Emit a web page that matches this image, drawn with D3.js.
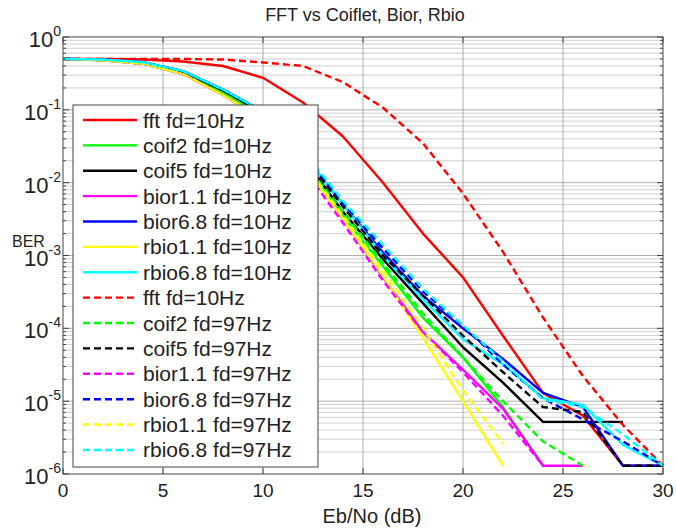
<!DOCTYPE html>
<html>
<head>
<meta charset="utf-8">
<script src="https://cdn.jsdelivr.net/npm/d3@7"></script>
<style>
  body { margin: 0; background: #fff; }
  svg { font-family: "Liberation Sans", Arial, sans-serif; }
</style>
</head>
<body>
<svg width="676" height="531"></svg>
<script>
// Eb/No points (dB)
const ebno = [0, 2, 4, 6, 8, 10, 12, 14, 16, 18, 20, 22, 24, 26, 28, 30];

// BER per curve (curves stop where BER hits zero)
const fft10    = [0.5, 0.5, 0.49, 0.46, 0.40, 0.275, 0.126, 0.043, 0.01, 2.0e-3, 5.0e-4, 7.9e-5, 1.3e-5, 6.3e-6, 1.3e-6, 1.3e-6];
const coif2_10 = [0.5, 0.48, 0.43, 0.32, 0.17, 0.08, 1.9e-2, 3.5e-3, 7.1e-4, 1.4e-4, 4.0e-5, 8.3e-6, 1.3e-6];
const coif5_10 = [0.5, 0.49, 0.44, 0.33, 0.185, 0.09, 2.2e-2, 4.0e-3, 8.9e-4, 2.2e-4, 5.5e-5, 1.8e-5, 5.2e-6, 5.2e-6, 5.2e-6];
const bior11_10 = [0.5, 0.48, 0.43, 0.31, 0.16, 0.075, 1.8e-2, 3.2e-3, 5.0e-4, 8.9e-5, 2.7e-5, 7.9e-6, 1.3e-6, 1.3e-6];
const bior68_10 = [0.5, 0.49, 0.45, 0.34, 0.19, 0.095, 2.5e-2, 5.0e-3, 1.1e-3, 2.8e-4, 1.0e-4, 3.8e-5, 1.3e-5, 8.3e-6, 1.3e-6, 1.3e-6];
const rbio11_10 = [0.5, 0.48, 0.43, 0.31, 0.16, 0.075, 1.8e-2, 3.2e-3, 5.2e-4, 7.4e-5, 1.0e-5, 1.3e-6];
const rbio68_10 = [0.5, 0.49, 0.45, 0.34, 0.19, 0.095, 2.5e-2, 5.0e-3, 1.0e-3, 2.5e-4, 7.1e-5, 3.2e-5, 1.1e-5, 8.9e-6, 2.5e-6, 1.3e-6];
const fft97    = [0.5, 0.5, 0.5, 0.5, 0.49, 0.447, 0.40, 0.24, 0.107, 0.0347, 7.1e-3, 1.12e-3, 1.41e-4, 2.2e-5, 4.7e-6, 1.3e-6];
const coif2_97 = [0.5, 0.48, 0.43, 0.32, 0.17, 0.08, 2.0e-2, 4.0e-3, 7.9e-4, 1.6e-4, 4.0e-5, 1.0e-5, 2.8e-6, 1.3e-6];
const coif5_97 = [0.5, 0.49, 0.44, 0.33, 0.185, 0.09, 2.4e-2, 4.7e-3, 1.0e-3, 2.8e-4, 7.9e-5, 2.5e-5, 8.3e-6, 7.1e-6, 1.3e-6, 1.3e-6];
const bior11_97 = [0.5, 0.48, 0.43, 0.31, 0.16, 0.075, 1.6e-2, 2.8e-3, 4.5e-4, 8.9e-5, 2.5e-5, 6.3e-6, 1.3e-6];
const bior68_97 = [0.5, 0.49, 0.45, 0.34, 0.19, 0.095, 2.6e-2, 5.2e-3, 1.26e-3, 3.2e-4, 1.1e-4, 3.2e-5, 1.1e-5, 5.6e-6, 2.8e-6, 1.3e-6];
const rbio11_97 = [0.5, 0.48, 0.43, 0.31, 0.16, 0.075, 1.9e-2, 3.5e-3, 6.3e-4, 1.0e-4, 1.4e-5, 2.6e-6];
const rbio68_97 = [0.5, 0.49, 0.45, 0.34, 0.19, 0.095, 2.8e-2, 5.6e-3, 1.4e-3, 3.5e-4, 1.1e-4, 3.5e-5, 1.05e-5, 8.3e-6, 3.5e-6, 1.3e-6];

const labels = ["fft fd=10Hz", "coif2 fd=10Hz", "coif5 fd=10Hz", "bior1.1 fd=10Hz", "bior6.8 fd=10Hz",
  "rbio1.1 fd=10Hz", "rbio6.8 fd=10Hz", "fft fd=10Hz", "coif2 fd=97Hz", "coif5 fd=97Hz",
  "bior1.1 fd=97Hz", "bior6.8 fd=97Hz", "rbio1.1 fd=97Hz", "rbio6.8 fd=97Hz"];
const values = [fft10, coif2_10, coif5_10, bior11_10, bior68_10, rbio11_10, rbio68_10,
  fft97, coif2_97, coif5_97, bior11_97, bior68_97, rbio11_97, rbio68_97];
const colors = ["#ff0000", "#00ff00", "#000000", "#ff00ff", "#0000ff", "#ffff00", "#00ffff",
  "#ff0000", "#00ff00", "#000000", "#ff00ff", "#0000ff", "#ffff00", "#00ffff"];

const xTicks = [0, 5, 10, 15, 20, 25, 30];
const yTicks = [1, 1e-1, 1e-2, 1e-3, 1e-4, 1e-5, 1e-6];
const yExp = ["0", "-1", "-2", "-3", "-4", "-5", "-6"];

const pl = 63, pr = 663, pt = 37, pb = 474;

const svg = d3.select("svg");
const x = d3.scaleLinear().domain([0, 30]).range([pl, pr]);
const y = d3.scaleLog().domain([1e-6, 1]).range([pb, pt]);

// minor values for log grid
const minor = [];
for (let e = -6; e < 0; e++) {
  for (let m = 2; m <= 9; m++) minor.push(m * Math.pow(10, e));
}

const grid = svg.append("g");
grid.selectAll(".ymin").data(minor).enter().append("line")
  .attr("x1", pl).attr("x2", pr)
  .attr("y1", d => y(d)).attr("y2", d => y(d))
  .attr("stroke", "#c4c4c4").attr("stroke-width", 0.8);
grid.selectAll(".ymaj").data(yTicks.slice(1, -1)).enter().append("line")
  .attr("x1", pl).attr("x2", pr)
  .attr("y1", d => y(d)).attr("y2", d => y(d))
  .attr("stroke", "#9a9a9a").attr("stroke-width", 0.8);
grid.selectAll(".xmaj").data(xTicks.slice(1, -1)).enter().append("line")
  .attr("y1", pt).attr("y2", pb)
  .attr("x1", d => x(d)).attr("x2", d => x(d))
  .attr("stroke", "#9a9a9a").attr("stroke-width", 0.8);

// curves
const line = d3.line().x((d, i) => x(ebno[i])).y(d => y(d));
svg.append("g").selectAll("path").data(values).enter().append("path")
  .attr("d", d => line(d))
  .attr("fill", "none")
  .attr("stroke", (d, i) => colors[i])
  .attr("stroke-width", 2.4)
  .attr("stroke-dasharray", (d, i) => i >= 7 ? "7,4" : null)
  .attr("stroke-linejoin", "round");

// axes box + ticks
svg.append("rect").attr("x", pl).attr("y", pt)
  .attr("width", pr - pl).attr("height", pb - pt)
  .attr("fill", "none").attr("stroke", "#444").attr("stroke-width", 1);

const ticks = svg.append("g").attr("stroke", "#444").attr("stroke-width", 1);
xTicks.forEach(t => {
  ticks.append("line").attr("x1", x(t)).attr("x2", x(t)).attr("y1", pb).attr("y2", pb - 6);
  ticks.append("line").attr("x1", x(t)).attr("x2", x(t)).attr("y1", pt).attr("y2", pt + 6);
});
yTicks.forEach(t => {
  ticks.append("line").attr("x1", pl).attr("x2", pl + 6).attr("y1", y(t)).attr("y2", y(t));
  ticks.append("line").attr("x1", pr).attr("x2", pr - 6).attr("y1", y(t)).attr("y2", y(t));
});
minor.forEach(t => {
  ticks.append("line").attr("x1", pl).attr("x2", pl + 3).attr("y1", y(t)).attr("y2", y(t));
  ticks.append("line").attr("x1", pr).attr("x2", pr - 3).attr("y1", y(t)).attr("y2", y(t));
});

// tick labels
svg.append("g").selectAll("text").data(xTicks).enter().append("text")
  .attr("x", d => x(d)).attr("y", 497)
  .attr("text-anchor", "middle").attr("font-size", 19).attr("fill", "#222")
  .text(d => d);

const yl = svg.append("g").selectAll("text").data(yTicks).enter().append("text")
  .attr("x", 61).attr("y", d => y(d) + 10)
  .attr("text-anchor", "end").attr("fill", "#222");
yl.append("tspan").attr("font-size", 22).text("10");
yl.append("tspan").attr("font-size", 14).attr("dy", -11).text((d, i) => yExp[i]);

// titles
svg.append("text").attr("x", 365).attr("y", 21).attr("text-anchor", "middle")
  .attr("font-size", 18).attr("fill", "#222").text("FFT vs Coiflet, Bior, Rbio");
svg.append("text").attr("x", 372).attr("y", 523).attr("text-anchor", "middle")
  .attr("font-size", 20).attr("fill", "#222").text("Eb/No (dB)");
svg.append("text").attr("x", 12).attr("y", 247)
  .attr("font-size", 16).attr("fill", "#222").text("BER");

// legend
const lg = svg.append("g");
lg.append("rect").attr("x", 73).attr("y", 105).attr("width", 245).attr("height", 362)
  .attr("fill", "#fff").attr("stroke", "#444").attr("stroke-width", 1);
const rowY = i => 120 + i * 25.38;
labels.forEach((lab, i) => {
  lg.append("line").attr("x1", 83).attr("x2", 137)
    .attr("y1", rowY(i)).attr("y2", rowY(i))
    .attr("stroke", colors[i]).attr("stroke-width", 2.4)
    .attr("stroke-dasharray", i >= 7 ? "7,4" : null);
  lg.append("text").attr("x", 143).attr("y", rowY(i) + 7.5)
    .attr("font-size", 21).attr("fill", "#222").text(lab);
});
</script>
</body>
</html>
